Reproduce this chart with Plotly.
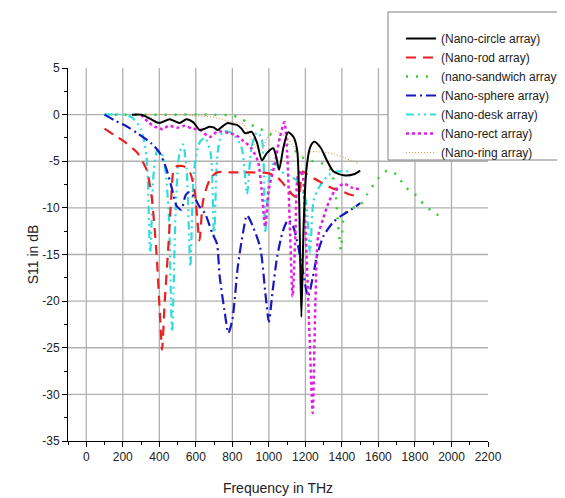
import plotly.graph_objects as go

# ---------------- data ----------------
freq_circle = [250, 300, 346, 400, 456, 511, 548, 585, 621, 650, 676, 700, 720, 750, 775, 800,
               825, 850, 870, 906, 935, 962, 990, 1024, 1040, 1056, 1080, 1105, 1135, 1155,
               1166, 1178, 1190, 1205, 1226, 1248, 1282, 1320, 1354, 1410, 1465, 1500]
s11_circle = [0, 0, -0.4, -0.9, -0.5, -0.9, -0.5, -0.8, -1.65, -1.5, -1.3, -1.4, -1.65, -1.2, -0.9, -1.0,
              -1.1, -1.5, -2.0, -1.85, -3.0, -4.9, -4.1, -3.6, -4.5, -5.9, -3.5, -1.9, -2.4, -3.8,
              -9.2, -21.7, -12.0, -6.0, -3.5, -2.9, -3.5, -5.0, -6.1, -6.5, -6.4, -6.0]

freq_rod = [100, 154, 209, 280, 330, 358, 385, 405, 415, 430, 450, 465, 480, 500, 540, 570,
            595, 620, 640, 676, 715, 800, 900, 1000, 1050, 1100, 1130, 1160, 1185, 1210,
            1243, 1280, 1347, 1400, 1447, 1475]
s11_rod = [-1.5, -2.2, -2.9, -4.1, -5.9, -8.8, -15.0, -22.0, -25.2, -20.0, -14.0, -9.0, -5.8, -5.5, -5.6, -6.3,
           -8.4, -13.5, -9.2, -7.0, -6.2, -6.2, -6.2, -6.3, -6.8, -7.9, -8.6, -8.9, -6.1, -6.4,
           -6.8, -7.2, -7.9, -8.2, -8.6, -8.7]

freq_sandwich = [100, 300, 500, 700, 800, 852, 880, 940, 990, 1061, 1100, 1150, 1200, 1243, 1300,
                 1340, 1365, 1380, 1395, 1410, 1440, 1490, 1540, 1600, 1650, 1703, 1743, 1798,
                 1848, 1903, 1960]
s11_sandwich = [0, 0, 0, 0, -0.1, -0.4, -0.9, -1.4, -1.9, -2.7, -3.2, -4.0, -4.8, -5.0, -5.3,
                -6.0, -8.4, -12.0, -14.5, -11.0, -10.0, -9.9, -8.5, -6.8, -6.0, -6.5, -7.7, -8.5,
                -9.6, -10.5, -11.1]

freq_sphere = [100, 154, 225, 280, 358, 402, 440, 470, 495, 520, 545, 566, 590, 621, 650, 690,
               715, 731, 759, 778, 800, 830, 858, 880, 897, 952, 980, 1000, 1020, 1045, 1078,
               1106, 1133, 1161, 1188, 1215, 1240, 1265, 1300, 1354, 1400, 1450, 1500]
s11_sphere = [0, -0.6, -1.3, -2.0, -3.1, -4.1, -5.9, -8.0, -9.8, -10.2, -8.6, -8.3, -8.8, -9.9, -10.6, -12.7,
              -13.8, -17.4, -21.3, -23.4, -22.0, -16.3, -12.7, -10.8, -11.3, -14.2, -19.0, -22.2, -19.0, -15.3, -12.4,
              -11.3, -12.0, -14.2, -17.0, -19.5, -17.5, -15.0, -13.0, -11.5, -10.8, -10.2, -9.5]

freq_desk = [100, 200, 250, 300, 330, 350, 370, 390, 420, 450, 470, 490, 510, 530, 550, 570,
             590, 620, 650, 680, 700, 720, 748, 800, 850, 880, 905, 935, 960, 980, 1000,
             1030, 1060, 1100, 1150, 1200, 1225, 1245, 1272, 1326, 1373, 1456]
s11_desk = [0, 0, -0.3, -1.6, -4.5, -14.8, -6.0, -3.8, -4.5, -10.0, -23.3, -10.0, -4.2, -3.2, -6.0, -16.3,
            -6.0, -3.0, -2.5, -4.0, -13.0, -4.0, -1.8, -2.0, -3.5, -8.5, -3.5, -1.9, -2.5, -12.7, -7.0,
            -5.0, -6.0, -6.5, -7.0, -9.0, -14.8, -9.2, -7.9, -6.5, -6.1, -6.1]

freq_rect = [300, 340, 374, 400, 418, 450, 500, 540, 580, 621, 676, 720, 786, 820, 852, 900,
             940, 960, 980, 1000, 1030, 1060, 1085, 1100, 1115, 1130, 1145, 1160, 1180, 1200,
             1225, 1240, 1255, 1270, 1300, 1326, 1360, 1410, 1450, 1500]
s11_rect = [0, -0.8, -1.3, -1.4, -1.6, -1.2, -1.4, -1.2, -1.5, -1.6, -2.4, -1.8, -2.0, -2.2, -2.7, -3.5,
            -5.0, -8.0, -12.0, -8.0, -5.5, -2.5, -0.8, -4.0, -12.0, -19.5, -13.0, -6.5, -6.0, -12.0,
            -25.0, -32.0, -20.0, -13.0, -11.0, -9.5, -8.2, -7.4, -7.8, -8.0]

freq_ring = [300, 500, 700, 800, 860, 896, 930, 960, 990, 1023, 1060, 1100, 1140, 1171, 1220,
             1282, 1353, 1410, 1485]
s11_ring = [0, 0, -0.3, -0.8, -1.0, -2.4, -3.5, -3.8, -2.5, -1.65, -2.0, -2.5, -3.5, -4.5, -4.0,
            -4.0, -4.2, -4.6, -5.2]

names = ["(Nano-circle array)", "(Nano-rod array)", "(nano-sandwich array)", "(Nano-sphere array)",
         "(Nano-desk array)", "(Nano-rect array)", "(Nano-ring array)"]

x_ticks = list(range(0, 2201, 200))
y_ticks = list(range(-35, 6, 5))

# ---------------- figure ----------------
# page body has an 8px default margin, so the figure is drawn 8px in and 8px down
OFF = 8
W, H = 565 - OFF, 498 - OFF
L, T = 68 - OFF, 68 - OFF
R, B = 565 - 488, 498 - 441
PW, PH = 420, 373


def px_x(px):
    return (px - 68) / PW


def px_y(py):
    return (441 - py) / PH


fig = go.Figure()

series = [
    (freq_ring, s11_ring, 6, "#e0a050", "1px,2px", 1.2),
    (freq_sandwich, s11_sandwich, 2, "#33cc33", "2px,8px", 2.5),
    (freq_desk, s11_desk, 4, "#30dcdc", "8px,4px,2px,4px,2px,4px", 2.2),
    (freq_rod, s11_rod, 1, "#e82020", "10px,7px", 2.2),
    (freq_sphere, s11_sphere, 3, "#1818c0", "10px,4px,2px,4px", 2.2),
    (freq_rect, s11_rect, 5, "#e020e0", "3px,3px", 2.5),
    (freq_circle, s11_circle, 0, "#000000", "solid", 2.0),
]
for xs, ys, idx, col, dash, w in series:
    fig.add_trace(go.Scatter(
        x=xs, y=ys, mode="lines", name=names[idx], legendrank=idx + 1,
        line=dict(color=col, dash=dash, width=w, shape="spline", smoothing=0.7),
    ))

shapes = []
for xv in x_ticks[:-1]:
    shapes.append(dict(type="line", xref="x", yref="y", x0=xv, x1=xv, y0=-35, y1=5,
                       line=dict(color="#b0b0b0", width=1.3), layer="below"))
for yv in y_ticks[1:-1]:
    shapes.append(dict(type="line", xref="x", yref="y", x0=-100, x1=2200, y0=yv, y1=yv,
                       line=dict(color="#b0b0b0", width=1.3), layer="below"))
shapes.append(dict(type="rect", xref="paper", yref="paper",
                   x0=px_x(388), x1=px_x(575), y0=px_y(160), y1=px_y(12),
                   fillcolor="white", line=dict(color="#808080", width=1), layer="above"))

fig.update_layout(
    width=W, height=H,
    margin=dict(l=L, r=R, t=T, b=B, autoexpand=False),
    paper_bgcolor="white", plot_bgcolor="white",
    font=dict(family="Liberation Sans, Arial, sans-serif", size=12, color="#222"),
    shapes=shapes,
    showlegend=True,
    legend=dict(x=px_x(401), y=px_y(24), xanchor="left", yanchor="top",
                bgcolor="rgba(0,0,0,0)", borderwidth=0,
                font=dict(size=12, color="#222"), traceorder="normal",
                itemwidth=30),
    xaxis=dict(range=[-100, 2200], tickvals=x_ticks, ticktext=[str(v) for v in x_ticks],
               showgrid=False, zeroline=False, showline=True, linecolor="black", linewidth=1,
               ticks="outside", ticklen=5, tickcolor="black",
               minor=dict(dtick=100, tick0=0, ticks="outside", ticklen=3, tickcolor="black", showgrid=False),
               title=dict(text="Frequency in THz", font=dict(size=14), standoff=19)),
    yaxis=dict(range=[-35, 5], tickvals=y_ticks, ticktext=[str(v) for v in y_ticks],
               showgrid=False, zeroline=False, showline=True, linecolor="black", linewidth=1,
               ticks="outside", ticklen=5, tickcolor="black",
               minor=dict(dtick=2.5, tick0=0, ticks="outside", ticklen=3, tickcolor="black", showgrid=False),
               title=dict(text="S11 in dB", font=dict(size=14), standoff=0)),
)

fig.write_html("out.html")
